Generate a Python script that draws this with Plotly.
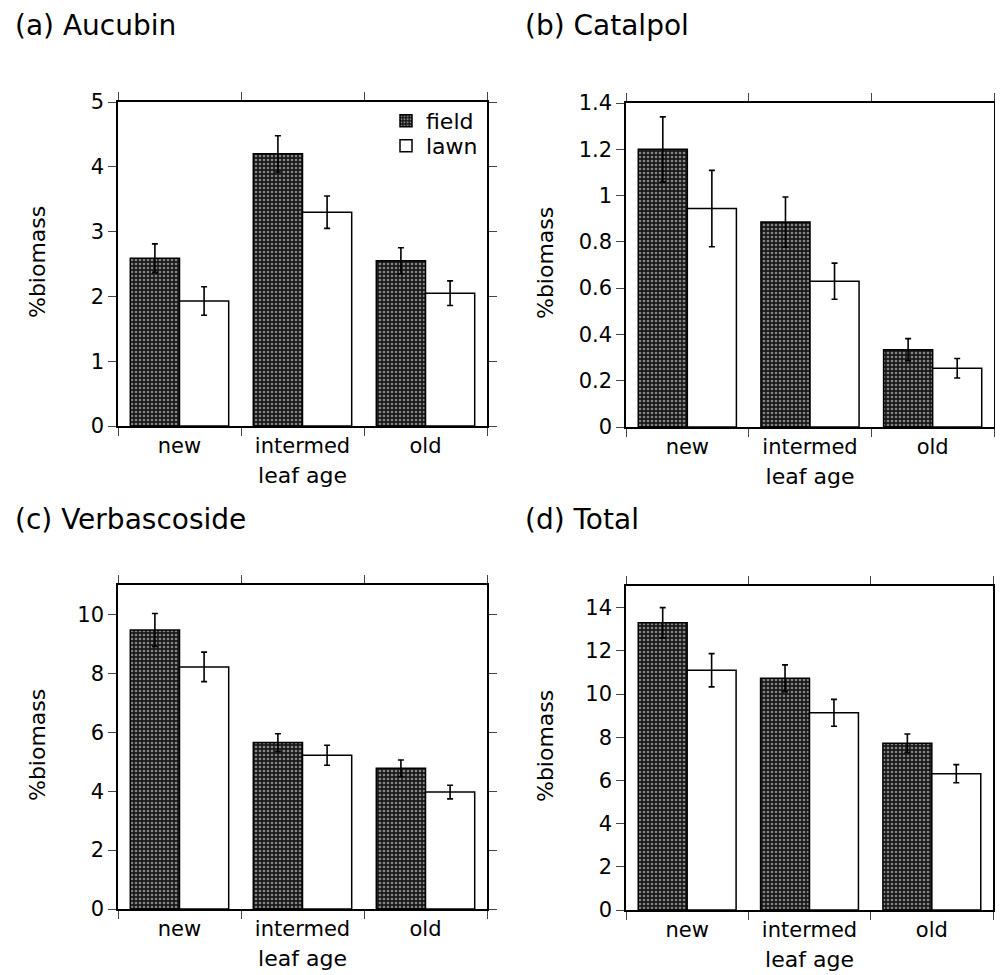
import plotly.graph_objects as go

categories = ["new", "intermed", "old"]

aucubin_field = [2.59, 4.20, 2.55]
aucubin_field_err = [0.22, 0.28, 0.20]
aucubin_lawn = [1.93, 3.30, 2.05]
aucubin_lawn_err = [0.22, 0.25, 0.19]

catalpol_field = [1.20, 0.886, 0.334]
catalpol_field_err = [0.14, 0.108, 0.048]
catalpol_lawn = [0.944, 0.63, 0.254]
catalpol_lawn_err = [0.165, 0.078, 0.042]

verbascoside_field = [9.47, 5.65, 4.78]
verbascoside_field_err = [0.56, 0.30, 0.28]
verbascoside_lawn = [8.22, 5.22, 3.97]
verbascoside_lawn_err = [0.50, 0.34, 0.23]

total_field = [13.3, 10.73, 7.72]
total_field_err = [0.70, 0.62, 0.43]
total_lawn = [11.1, 9.13, 6.31]
total_lawn_err = [0.77, 0.62, 0.42]

panel_titles = ["(a) Aucubin", "(b) Catalpol", "(c) Verbascoside", "(d) Total"]
y_ranges = [[0, 5], [0, 1.4], [0, 11], [0, 15]]
y_dticks = [1, 0.2, 2, 2]

# page body has an 8px margin: build the figure 8px smaller and shift coords
OFF = 8
FW, FH = 1003 - OFF, 975 - OFF
FONT = "DejaVu Sans"


def px(x):
    return (x - OFF) / FW


def py(y):
    return 1 - (y - OFF) / FH


panels = [
    (aucubin_field, aucubin_field_err, aucubin_lawn, aucubin_lawn_err),
    (catalpol_field, catalpol_field_err, catalpol_lawn, catalpol_lawn_err),
    (verbascoside_field, verbascoside_field_err, verbascoside_lawn, verbascoside_lawn_err),
    (total_field, total_field_err, total_lawn, total_lawn_err),
]

# pixel boxes in the target picture: (left, right, top, bottom)
boxes = [(118, 487, 102, 426), (626, 994, 103, 427), (118, 487, 585, 909), (626, 993, 586, 910)]

fig = go.Figure()
for i, (ff, ffe, ll, lle) in enumerate(panels):
    n = "" if i == 0 else str(i + 1)
    fig.add_trace(go.Bar(
        x=categories, y=ff, name="field", showlegend=(i == 0), legend="legend",
        xaxis="x" + n, yaxis="y" + n,
        marker=dict(color="#222222", line=dict(color="black", width=1.5),
                    pattern=dict(shape=".", fgcolor="#f0f0f0", bgcolor="#1a1a1a",
                                 size=4, solidity=0.35)),
        error_y=dict(type="data", array=ffe, visible=True, color="black",
                     thickness=1.6, width=3),
    ))
    fig.add_trace(go.Bar(
        x=categories, y=ll, name="lawn", showlegend=(i == 0), legend="legend2",
        xaxis="x" + n, yaxis="y" + n,
        marker=dict(color="white", line=dict(color="black", width=1.5)),
        error_y=dict(type="data", array=lle, visible=True, color="black",
                     thickness=1.6, width=3),
    ))

leg_common = dict(xanchor="left", yanchor="middle", bgcolor="rgba(0,0,0,0)",
                  font=dict(size=22), itemwidth=30, borderwidth=0)

layout = dict(
    width=FW, height=FH,
    margin=dict(l=0, r=0, t=0, b=0, autoexpand=False),
    paper_bgcolor="white", plot_bgcolor="white",
    barmode="group", bargap=0.2, bargroupgap=0,
    font=dict(family=FONT, size=21, color="black"),
    showlegend=True,
    legend=dict(x=px(386), y=py(121), **leg_common),
    legend2=dict(x=px(386), y=py(146), **leg_common),
)

annotations = []
for i, (l, r, t, b) in enumerate(boxes):
    n = "" if i == 0 else str(i + 1)
    xa = dict(
        domain=[px(l), px(r)], anchor="y" + n,
        type="category", tickson="boundaries", ticks="outside", ticklen=8,
        tickwidth=1.3, showline=True, linecolor="black", linewidth=1.5,
        mirror="ticks", tickfont=dict(size=21),
        title=dict(text="leaf age", standoff=11, font=dict(size=22)),
        showgrid=False, zeroline=False,
    )
    ya = dict(
        domain=[py(b), py(t)], anchor="x" + n,
        range=y_ranges[i], dtick=y_dticks[i], tick0=0,
        ticks="outside", ticklen=8, tickwidth=1.3, showline=True,
        linecolor="black", linewidth=1.5, mirror="ticks",
        tickfont=dict(size=21), showgrid=False, zeroline=False,
    )
    layout["xaxis" + n] = xa
    layout["yaxis" + n] = ya
    annotations.append(dict(
        text="%biomass", textangle=-90, xref="paper", yref="paper",
        x=px(l - 81), y=py((t + b) / 2 - 2), xanchor="center", yanchor="middle",
        showarrow=False, font=dict(size=22),
    ))
    tx = 13 if i % 2 == 0 else 523
    ty = 25 if i < 2 else 519
    annotations.append(dict(
        text=panel_titles[i], xref="paper", yref="paper",
        x=px(tx), y=py(ty), xanchor="left", yanchor="middle",
        showarrow=False, font=dict(size=28),
    ))

layout["annotations"] = annotations
fig.update_layout(**layout)
fig.write_html("out.html")
